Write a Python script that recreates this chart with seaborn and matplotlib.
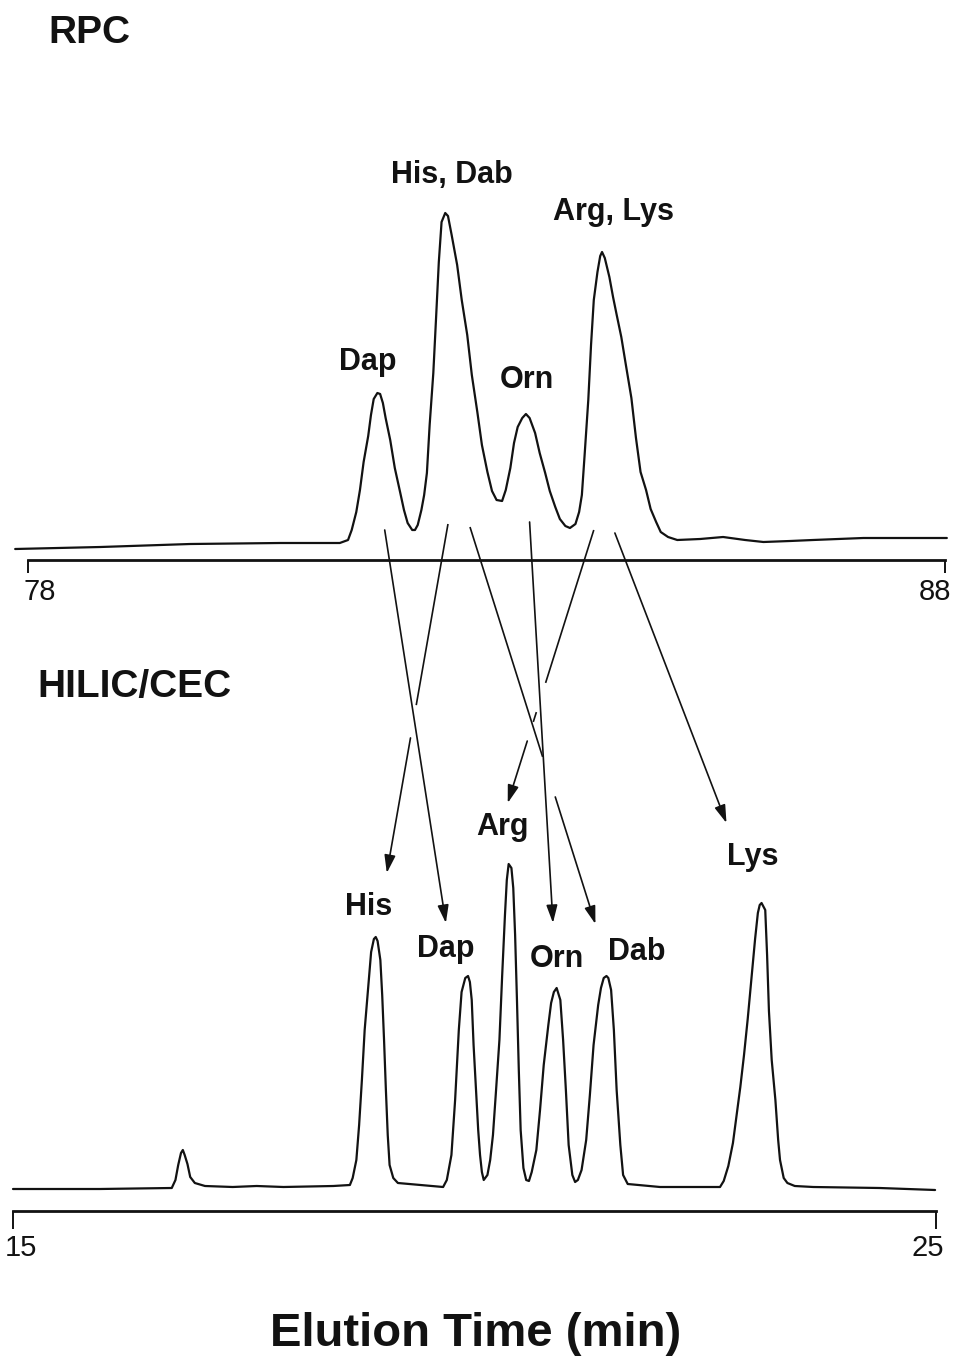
import matplotlib
matplotlib.use("Agg")
import matplotlib.pyplot as plt
import pandas as pd
import seaborn as sns
from matplotlib.lines import Line2D
from matplotlib.patches import FancyArrowPatch

# ---------------------------------------------------------------------------
# Chromatogram traces (time in min, detector signal in arbitrary units)
# ---------------------------------------------------------------------------
rpc_time = [
    77.86, 78.79, 79.77, 80.75, 81.40, 81.49, 81.53, 81.58, 81.62, 81.66,
    81.71, 81.74, 81.77, 81.81, 81.84, 81.87, 81.90, 81.95, 82.00, 82.06,
    82.10, 82.14, 82.19, 82.22, 82.25, 82.29, 82.32, 82.35, 82.38, 82.42,
    82.45, 82.48, 82.51, 82.55, 82.58, 82.62, 82.68, 82.73, 82.79, 82.84,
    82.90, 82.95, 83.01, 83.06, 83.11, 83.17, 83.21, 83.26, 83.30, 83.34,
    83.39, 83.43, 83.47, 83.53, 83.58, 83.64, 83.69, 83.75, 83.80, 83.86,
    83.91, 83.97, 84.01, 84.04, 84.07, 84.11, 84.14, 84.17, 84.21, 84.24,
    84.26, 84.29, 84.34, 84.38, 84.42, 84.47, 84.52, 84.58, 84.63, 84.68,
    84.74, 84.79, 84.85, 84.90, 84.98, 85.08, 85.33, 85.58, 85.82, 86.02,
    86.31, 86.56, 87.11, 87.51, 88.02,
]
rpc_signal = [
    11, 13, 16, 17, 17, 20, 30, 48, 70, 98,
    124, 145, 161, 167, 166, 157, 142, 120, 92, 67,
    50, 37, 30, 30, 35, 50, 65, 87, 135, 187,
    242, 298, 338, 347, 344, 325, 295, 260, 225, 185,
    148, 115, 88, 69, 60, 59, 70, 92, 117, 133,
    142, 146, 142, 127, 107, 87, 69, 53, 41, 34,
    32, 36, 48, 65, 105, 160, 215, 260, 288, 304,
    308, 302, 283, 263, 245, 223, 195, 162, 122, 88,
    70, 51, 38, 28, 23, 20, 21, 23, 20, 18,
    19, 20, 22, 22, 22,
]

hilic_time = [
    15.00, 15.94, 16.72, 16.76, 16.79, 16.82, 16.84, 16.86, 16.89, 16.92,
    16.97, 17.08, 17.38, 17.64, 17.93, 18.47, 18.65, 18.68, 18.72, 18.75,
    18.78, 18.81, 18.85, 18.88, 18.91, 18.93, 18.95, 18.98, 19.00, 19.02,
    19.04, 19.06, 19.08, 19.12, 19.17, 19.41, 19.66, 19.70, 19.75, 19.79,
    19.83, 19.86, 19.90, 19.93, 19.95, 19.97, 19.99, 20.02, 20.04, 20.06,
    20.08, 20.10, 20.14, 20.17, 20.20, 20.23, 20.27, 20.30, 20.33, 20.35,
    20.37, 20.40, 20.42, 20.44, 20.46, 20.48, 20.50, 20.53, 20.56, 20.59,
    20.62, 20.67, 20.71, 20.75, 20.80, 20.83, 20.86, 20.89, 20.93, 20.96,
    20.99, 21.02, 21.06, 21.09, 21.12, 21.16, 21.21, 21.25, 21.29, 21.34,
    21.37, 21.40, 21.43, 21.45, 21.48, 21.51, 21.54, 21.58, 21.61, 21.66,
    22.01, 22.33, 22.66, 22.70, 22.75, 22.80, 22.84, 22.88, 22.92, 22.96,
    23.00, 23.04, 23.07, 23.09, 23.11, 23.15, 23.17, 23.19, 23.22, 23.26,
    23.29, 23.31, 23.35, 23.39, 23.47, 23.67, 24.39, 24.99,
]
hilic_signal = [
    22, 22, 23, 31, 46, 58, 61, 56, 47, 34,
    28, 25, 24, 25, 24, 25, 26, 33, 51, 86,
    131, 181, 226, 259, 272, 274, 270, 251, 216, 171,
    121, 76, 46, 33, 28, 26, 24, 31, 56, 111,
    181, 219, 233, 235, 229, 211, 166, 116, 81, 56,
    39, 31, 36, 51, 76, 116, 171, 236, 296, 331,
    347, 343, 323, 276, 211, 141, 81, 43, 31, 30,
    39, 61, 101, 146, 186, 208, 219, 223, 211, 171,
    121, 66, 36, 29, 31, 41, 71, 116, 166, 206,
    223, 233, 235, 233, 221, 181, 121, 66, 36, 27,
    24, 24, 24, 30, 45, 68, 96, 124, 156, 192,
    232, 272, 298, 306, 308, 301, 256, 200, 151, 111,
    71, 51, 33, 28, 25, 24, 23, 21,
]

rpc_ticks = [78, 88]
hilic_ticks = [15, 25]

# Peak identities
rpc_peak_labels = ["Dap", "His, Dab", "Orn", "Arg, Lys"]
hilic_peak_labels = ["His", "Dap", "Arg", "Orn", "Dab", "Lys"]

# Where each amino acid moves from the RPC run to the HILIC/CEC run
arrow_names = ["Dap", "His", "Dab", "Orn", "Arg", "Lys"]
arrow_rpc_time = [81.89, 82.58, 82.82, 83.47, 84.17, 84.40]
arrow_hilic_time = [19.69, 19.05, 21.31, 20.85, 20.36, 22.73]

# ---------------------------------------------------------------------------
# Layout (label anchors, arrow heights, line breaks where arrows cross)
# ---------------------------------------------------------------------------
rpc_label_time = [81.71, 82.62, 83.44, 84.38]
rpc_label_level = [190, 377, 172, 340]
hilic_label_time = [18.85, 19.69, 20.30, 20.89, 21.76, 23.01]
hilic_label_level = [296, 254, 376, 244, 251, 346]

arrow_start_level = [30, 36, 33, 38, 30, 27]
arrow_end_level = [288, 338, 287, 288, 408, 388]
arrow_breaks = [[], [(0.519, 0.613)], [(0.579, 0.680)], [],
                [(0.560, 0.667), (0.703, 0.773)], []]

INK = "#121212"

sns.set_theme(style="white")
plt.rcParams["font.family"] = ["Liberation Sans", "DejaVu Sans"]

W, H = 955, 1357
fig = plt.figure(figsize=(W / 100, H / 100), dpi=100)
fig.patch.set_facecolor("white")


def px_rect(x0, x1, ytop, ybot):
    return [x0 / W, 1 - ybot / H, (x1 - x0) / W, (ybot - ytop) / H]


ax_top = fig.add_axes(px_rect(28, 945, 140, 620))
ax_bot = fig.add_axes(px_rect(13, 936, 800, 1270))

rpc = pd.DataFrame({"time": rpc_time, "signal": rpc_signal})
hilic = pd.DataFrame({"time": hilic_time, "signal": hilic_signal})

sns.lineplot(data=rpc, x="time", y="signal", ax=ax_top, color=INK,
             linewidth=1.6, estimator=None, sort=False)
sns.lineplot(data=hilic, x="time", y="signal", ax=ax_bot, color=INK,
             linewidth=1.6, estimator=None, sort=False)

ax_top.set_xlim(78, 88)
ax_top.set_ylim(-60, 420)
ax_bot.set_xlim(15, 25)
ax_bot.set_ylim(-59, 411)

for ax, ticks, tlen in ((ax_top, rpc_ticks, 9.4), (ax_bot, hilic_ticks, 13.0)):
    ax.patch.set_alpha(0)
    for line in ax.lines:
        line.set_clip_on(False)
        line.set_solid_joinstyle("round")
    for side in ("left", "right", "top"):
        ax.spines[side].set_visible(False)
    spine = ax.spines["bottom"]
    spine.set_position(("data", 0))
    spine.set_bounds(ticks[0], ticks[-1])
    spine.set_linewidth(2.0)
    spine.set_color(INK)
    ax.set_xticks(ticks)
    ax.set_yticks([])
    ax.tick_params(axis="x", direction="out", length=tlen, width=1.4,
                   color=INK, bottom=True, labelbottom=False)
    ax.set_xlabel("")
    ax.set_ylabel("")
    ax.grid(False)

# End-of-scale numbers
for ax, ticks, offsets, drop in ((ax_top, rpc_ticks, (12, -10), -40),
                                 (ax_bot, hilic_ticks, (8, -8), -45)):
    for t, dx in zip(ticks, offsets):
        ax.annotate(str(t), xy=(t, 0), xytext=(dx, drop),
                    textcoords="offset pixels", ha="center", va="baseline",
                    fontsize=21, color=INK, annotation_clip=False)

# Peak names
for name, t, lvl in zip(rpc_peak_labels, rpc_label_time, rpc_label_level):
    ax_top.text(t, lvl, name, ha="center", va="baseline", fontsize=22,
                fontweight="bold", color=INK, clip_on=False)
for name, t, lvl in zip(hilic_peak_labels, hilic_label_time, hilic_label_level):
    ax_bot.text(t, lvl, name, ha="center", va="baseline", fontsize=22,
                fontweight="bold", color=INK, clip_on=False)

# Panel titles and shared time label
fig.text(48 / W, 1 - 43 / H, "RPC", ha="left", va="baseline", fontsize=28,
         fontweight="bold", color=INK)
fig.text(37 / W, 1 - 697 / H, "HILIC/CEC", ha="left", va="baseline",
         fontsize=28, fontweight="bold", color=INK)
fig.text(476 / W, 1 - 1346 / H, "Elution Time (min)", ha="center",
         va="baseline", fontsize=34, fontweight="bold", color=INK)


# Arrows linking each RPC peak to its HILIC/CEC counterpart
def to_fig(ax, x, y):
    disp = ax.transData.transform((x, y))
    return fig.transFigure.inverted().transform(disp)


for t0, t1, y0, y1, gaps in zip(arrow_rpc_time, arrow_hilic_time,
                                 arrow_start_level, arrow_end_level,
                                 arrow_breaks):
    p0 = to_fig(ax_top, t0, y0)
    p1 = to_fig(ax_bot, t1, y1)
    cuts = [0.0]
    for a, b in gaps:
        cuts += [a, b]
    cuts.append(1.0)
    pieces = list(zip(cuts[0::2], cuts[1::2]))

    def at(f):
        return (p0[0] + (p1[0] - p0[0]) * f, p0[1] + (p1[1] - p0[1]) * f)

    for a, b in pieces[:-1]:
        pa, pb = at(a), at(b)
        fig.add_artist(Line2D([pa[0], pb[0]], [pa[1], pb[1]],
                              transform=fig.transFigure, color=INK,
                              linewidth=1.2, solid_capstyle="butt"))
    a, b = pieces[-1]
    fig.add_artist(FancyArrowPatch(at(a), at(b), transform=fig.transFigure,
                                   arrowstyle="-|>,head_length=0.9,head_width=0.28",
                                   mutation_scale=12, linewidth=1.2,
                                   color=INK, shrinkA=0, shrinkB=0))

fig.savefig("out.png", dpi=100, facecolor="white")
